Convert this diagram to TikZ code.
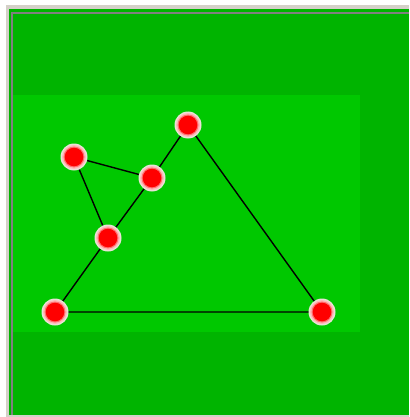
\documentclass[tikz,border=0pt]{standalone}
\definecolor{darkgrn}{RGB}{0,180,0}
\definecolor{litgrn}{RGB}{0,200,0}
\definecolor{frame}{RGB}{212,208,200}
\definecolor{bevel}{RGB}{128,128,128}
\definecolor{glowout}{RGB}{235,225,215}
\definecolor{glowmid}{RGB}{255,185,185}
\definecolor{glowin}{RGB}{255,110,110}
\tikzset{
  ball/.style={circle, minimum size=27pt, inner sep=0pt, fill=glowout,
    path picture={
      \fill[glowmid] (path picture bounding box.center) circle (12pt);
      \fill[glowin] (path picture bounding box.center) circle (10.5pt);
      \fill[red] (path picture bounding box.center) circle (9.3pt);
    }},
  edge/.style={draw=black, line width=1.4pt}
}
\begin{document}
\begin{tikzpicture}[x=1pt,y=-1pt]
\useasboundingbox (0,0) rectangle (409,417);
\fill[white] (0,0) rectangle (409,417);
\fill[frame] (6,5) rectangle (409,417);
\fill[darkgrn] (9,9) rectangle (409,415);
\fill[bevel] (11,12) rectangle (13,415);
\fill[bevel] (11,12) rectangle (409,14);
\fill[litgrn] (13,95) rectangle (360,332);
\path (188,125) coordinate (top)
      (74,157) coordinate (lft)
      (152,178) coordinate (mid)
      (108,238) coordinate (low)
      (55,312) coordinate (bl)
      (322,312) coordinate (br);
\path[edge] (bl) -- (br)
  (br) -- (top)
  (top) -- (mid)
  (mid) -- (low)
  (low) -- (bl)
  (lft) -- (mid)
  (lft) -- (low);
\node[ball] (ntop) at (top) {};
\node[ball] (nlft) at (lft) {};
\node[ball] (nmid) at (mid) {};
\node[ball] (nlow) at (low) {};
\node[ball] (nbl) at (bl) {};
\node[ball] (nbr) at (br) {};
\end{tikzpicture}
\end{document}
